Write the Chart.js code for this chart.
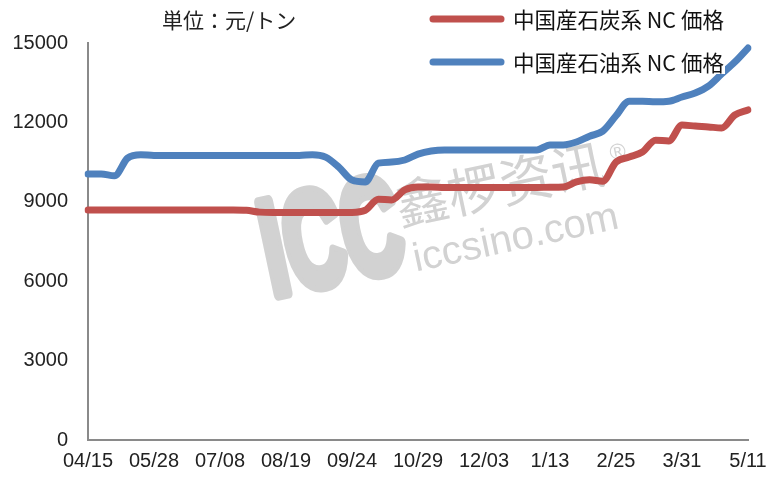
<!DOCTYPE html>
<html>
<head>
<meta charset="utf-8">
<script src="https://cdn.jsdelivr.net/npm/chart.js@4.4.0/dist/chart.umd.min.js"></script>
<style>
  body { margin: 0; background: #fff; }
  #myChart { display: block; }
</style>
</head>
<body>
<canvas id="myChart" width="771" height="478"></canvas>
<script>
// tick labels along the bottom, one every 5 points
const tickLabels = ['04/15', '05/28', '07/08', '08/19', '09/24', '10/29', '12/03', '1/13', '2/25', '3/31', '5/11']
const pointsPerTick = 5

const unitText = '単位：元/トン'
const coalLabel = '中国産石炭系 NC 価格'
const oilLabel = '中国産石油系 NC 価格'

// 中国産石炭系 NC 価格 (red)
const coalPrices = [
  8690, 8690, 8690, 8690, 8690, 8690, 8690, 8690, 8690, 8690,
  8690, 8690, 8680, 8610, 8600, 8600, 8600, 8600, 8600, 8600,
  8600, 8680, 9100, 9070, 9450, 9560, 9560, 9540, 9540, 9540,
  9540, 9540, 9540, 9540, 9540, 9550, 9560, 9750, 9830, 9780,
  10500, 10690, 10880, 11330, 11300, 11900, 11860, 11830, 11790, 12280,
  12470
]

// 中国産石油系 NC 価格 (blue)
const oilPrices = [
  10050, 10050, 9980, 10650, 10780, 10750, 10750, 10750, 10750, 10750,
  10750, 10750, 10750, 10750, 10750, 10750, 10750, 10780, 10690, 10310,
  9820, 9750, 10460, 10500, 10580, 10800, 10920, 10960, 10960, 10960,
  10960, 10960, 10960, 10960, 10960, 11150, 11150, 11260, 11480, 11670,
  12250, 12800, 12800, 12780, 12800, 12960, 13110, 13370, 13830, 14280,
  14810
]

// category list: a label every pointsPerTick, blanks between
var categories = []
for (var i = 0; i < coalPrices.length; i++) {
  categories.push(i % pointsPerTick === 0 ? tickLabels[i / pointsPerTick] : '')
}

const RED = 'rgb(192, 80, 77)'
const BLUE = 'rgb(79, 129, 189)'

// white page behind the chart
var whiteBg = {
  id: 'whiteBg',
  beforeDraw: function(chart) {
    var ctx = chart.ctx
    ctx.save()
    ctx.fillStyle = '#fff'
    ctx.fillRect(0, 0, chart.width, chart.height)
    ctx.restore()
  }
}

// light grey ICC watermark under the lines
var watermark = {
  id: 'watermark',
  beforeDatasetsDraw: function(chart) {
    var ctx = chart.ctx
    ctx.save()
    ctx.fillStyle = '#d2d2d2'
    ctx.strokeStyle = '#d2d2d2'
    ctx.lineJoin = 'round'
    ctx.translate(272, 296)
    ctx.rotate(-12 * Math.PI / 180)
    ctx.save()
    ctx.scale(0.6, 1)
    ctx.font = 'bold 136px "Liberation Sans", Arial, sans-serif'
    ctx.lineWidth = 12
    ctx.strokeText('ICC', 0, 0)
    ctx.fillText('ICC', 0, 0)
    ctx.restore()
    ctx.font = '53px "Noto Sans CJK SC", sans-serif'
    ctx.fillText('鑫椤资讯', 140, -42)
    ctx.font = '40px "Liberation Sans", Arial, sans-serif'
    ctx.fillText('iccsino.com', 146, 6)
    ctx.font = '22px "Liberation Sans", Arial, sans-serif'
    ctx.fillText('®', 360, -62)
    ctx.restore()
  }
}

// unit caption and the two-row legend in the top area
var captions = {
  id: 'captions',
  afterDraw: function(chart) {
    var ctx = chart.ctx
    ctx.save()
    ctx.textBaseline = 'middle'
    ctx.fillStyle = '#222'
    ctx.font = '21px "Noto Sans CJK JP", sans-serif'
    ctx.fillText(unitText, 162, 20)

    var rows = [[coalLabel, RED, 19], [oilLabel, BLUE, 62]]
    rows.forEach(function(r) {
      ctx.fillStyle = '#fff'
      ctx.fillRect(511, r[2] - 12, 214, 24)
      ctx.strokeStyle = r[1]
      ctx.lineWidth = 7
      ctx.lineCap = 'round'
      ctx.beginPath()
      ctx.moveTo(433, r[2])
      ctx.lineTo(501, r[2])
      ctx.stroke()
      ctx.fillStyle = '#111'
      ctx.font = '21.5px "Noto Sans CJK JP", sans-serif'
      ctx.fillText(r[0], 513, r[2] + 1)
    })
    ctx.restore()
  }
}

var ctx = document.getElementById('myChart').getContext('2d')
var chart = new Chart(ctx, {
  type: 'line',
  data: {
    labels: categories,
    datasets: [{
      label: coalLabel,
      data: coalPrices,
      borderColor: RED,
      backgroundColor: RED,
      borderWidth: 7,
      pointRadius: 0,
      cubicInterpolationMode: 'monotone',
      borderCapStyle: 'round',
      borderJoinStyle: 'round',
      fill: false
    }, {
      label: oilLabel,
      data: oilPrices,
      borderColor: BLUE,
      backgroundColor: BLUE,
      borderWidth: 7,
      pointRadius: 0,
      cubicInterpolationMode: 'monotone',
      borderCapStyle: 'round',
      borderJoinStyle: 'round',
      fill: false
    }]
  },
  options: {
    responsive: false,
    animation: false,
    devicePixelRatio: 1,
    layout: { padding: { top: 43, right: 23, left: 0, bottom: 0 } },
    plugins: {
      legend: { display: false },
      tooltip: { enabled: false }
    },
    scales: {
      x: {
        offset: false,
        grid: { display: false, drawTicks: false },
        border: { display: true, color: '#8a8a8a', width: 2 },
        ticks: {
          autoSkip: false,
          maxRotation: 0,
          padding: 9,
          color: '#222',
          font: { family: '"Liberation Sans", Arial, sans-serif', size: 20 }
        },
        afterFit: function(scale) {
          scale.height = 38
          scale.paddingLeft = 0
          scale.paddingRight = 0
        }
      },
      y: {
        min: 0,
        max: 15000,
        grid: { display: false, drawTicks: false },
        border: { display: true, color: '#8a8a8a', width: 2 },
        ticks: {
          stepSize: 3000,
          padding: 20,
          color: '#222',
          font: { family: '"Liberation Sans", Arial, sans-serif', size: 20 },
          callback: function(v) { return String(v) }
        },
        afterFit: function(scale) { scale.width = 88 }
      }
    }
  },
  plugins: [whiteBg, watermark, captions]
})
</script>
</body>
</html>
